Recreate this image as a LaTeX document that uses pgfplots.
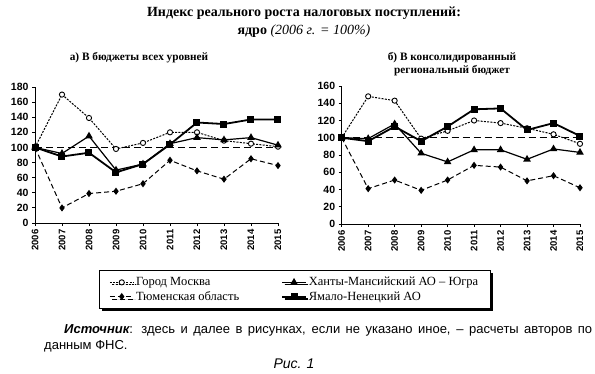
\documentclass[border=0pt]{standalone}
\usepackage{fontspec}
\setmainfont{Liberation Serif}
\setsansfont{Liberation Sans}
\usepackage{pgfplots}
\pgfplotsset{compat=1.18}
\usetikzlibrary{shadows}

\pgfplotsset{
  myaxis/.style={
    scale only axis,
    axis lines*=left,
    xmin=2006, xmax=2015, ymin=0,
    xtick={2006,...,2015},
    tick align=outside,
    major tick length=3pt,
    tick style={black, line width=0.8pt},
    axis line style={line width=0.9pt},
    x tick label style={rotate=90, anchor=east, font=\sffamily\bfseries\fontsize{9.5}{10}\selectfont, /pgf/number format/1000 sep={}},
    y tick label style={font=\sffamily\bfseries\fontsize{10.5}{11}\selectfont},
    /pgf/number format/assume math mode=true,
    clip=false,
    legend image code/.code={\draw[mark repeat=2,mark phase=2,##1] plot coordinates {(0cm,0cm)(0.42cm,0cm)(0.84cm,0cm)};},
  },
  mosc/.style={black, line width=1pt, dash pattern=on 2pt off 1.3pt, mark=*, mark size=2.6pt, mark options={solid, fill=white, line width=0.9pt}},
  khan/.style={black, line width=1.2pt, mark=triangle*, mark size=3.2pt, mark options={solid}},
  tyum/.style={black, line width=1pt, dash pattern=on 5pt off 3pt, mark=diamond*, mark size=2.8pt, mark options={solid}},
  yama/.style={black, line width=1.8pt, mark=square*, mark size=2.6pt, mark options={solid}},
  base/.style={black, line width=1.4pt, dash pattern=on 7pt off 4pt},
}

\begin{document}
\begin{tikzpicture}
\path[use as bounding box] (0pt,0pt) rectangle (595pt,-374pt);

\node[font=\bfseries\fontsize{14}{18}\selectfont, align=center] at (304pt,-22pt)
  {Индекс реального роста налоговых поступлений:\\ядро {\normalfont\itshape (2006 г. = 100\%)}};

\node[font=\bfseries\fontsize{11.3}{13}\selectfont] at (139pt,-58pt) {а) В бюджеты всех уровней};
\node[font=\bfseries\fontsize{11.3}{13}\selectfont, align=center] at (452pt,-64pt) {б) В консолидированный\\региональный бюджет};

% Left axis
\begin{axis}[myaxis, at={(35pt,-223pt)}, anchor=south west, width=243pt, height=136pt,
  ymax=180, ytick={0,20,...,180},
  legend columns=2,
  legend cell align=left,
  legend style={at={(0.263,-0.345)}, anchor=north west, draw=black, line width=0.8pt,
    drop shadow={shadow xshift=2.5pt, shadow yshift=-2.5pt, opacity=1, fill=black},
    font=\fontsize{12.5}{14}\selectfont, inner xsep=10pt, inner ysep=5pt, row sep=0pt,
    /tikz/every even column/.append style={column sep=40pt}},
]
\addplot[base, forget plot] coordinates {(2006,100) (2015,100)};
\addplot[mosc] coordinates {(2006,100) (2007,170) (2008,139) (2009,98) (2010,106) (2011,120) (2012,120) (2013,109) (2014,105) (2015,101)};
\addlegendentry{Город Москва}
\addplot[khan] coordinates {(2006,100) (2007,92) (2008,115) (2009,70) (2010,78) (2011,105) (2012,113) (2013,110) (2014,113) (2015,103)};
\addlegendentry{Ханты-Мансийский АО -- Югра}
\addplot[tyum] coordinates {(2006,100) (2007,20) (2008,39) (2009,42) (2010,52) (2011,83) (2012,69) (2013,58) (2014,85) (2015,76)};
\addlegendentry{Тюменская область}
\addplot[yama] coordinates {(2006,100) (2007,88) (2008,93) (2009,67) (2010,78) (2011,104) (2012,133) (2013,131) (2014,137) (2015,137)};
\addlegendentry{Ямало-Ненецкий АО}
\end{axis}

% Right axis
\begin{axis}[myaxis, at={(341.7pt,-224pt)}, anchor=south west, width=238.3pt, height=138pt,
  ymax=160, ytick={0,20,...,160}]
\addplot[base] coordinates {(2006,100) (2015,100)};
\addplot[mosc] coordinates {(2006,100) (2007,148) (2008,143) (2009,99) (2010,108) (2011,120) (2012,117) (2013,111) (2014,104) (2015,93)};
\addplot[khan] coordinates {(2006,100) (2007,99) (2008,116) (2009,82) (2010,72) (2011,86) (2012,86) (2013,75) (2014,87) (2015,83)};
\addplot[tyum] coordinates {(2006,100) (2007,41) (2008,51) (2009,39) (2010,51) (2011,68) (2012,66) (2013,50) (2014,56) (2015,42)};
\addplot[yama] coordinates {(2006,100) (2007,96) (2008,113) (2009,96) (2010,113) (2011,133) (2012,134) (2013,109) (2014,117) (2015,102)};
\end{axis}

\node[anchor=north west, text width=548pt, align=justify, inner sep=0pt,
  font=\sffamily\fontsize{13}{16}\selectfont] at (44pt,-324pt)
  {\hspace*{20pt}{\bfseries\itshape Источник}: здесь и далее в рисунках, если не указано иное, -- расчеты авторов по данным ФНС.};

\node[font=\sffamily\itshape\fontsize{14}{16}\selectfont] at (294pt,-364pt) {Рис. 1};
\end{tikzpicture}
\end{document}
